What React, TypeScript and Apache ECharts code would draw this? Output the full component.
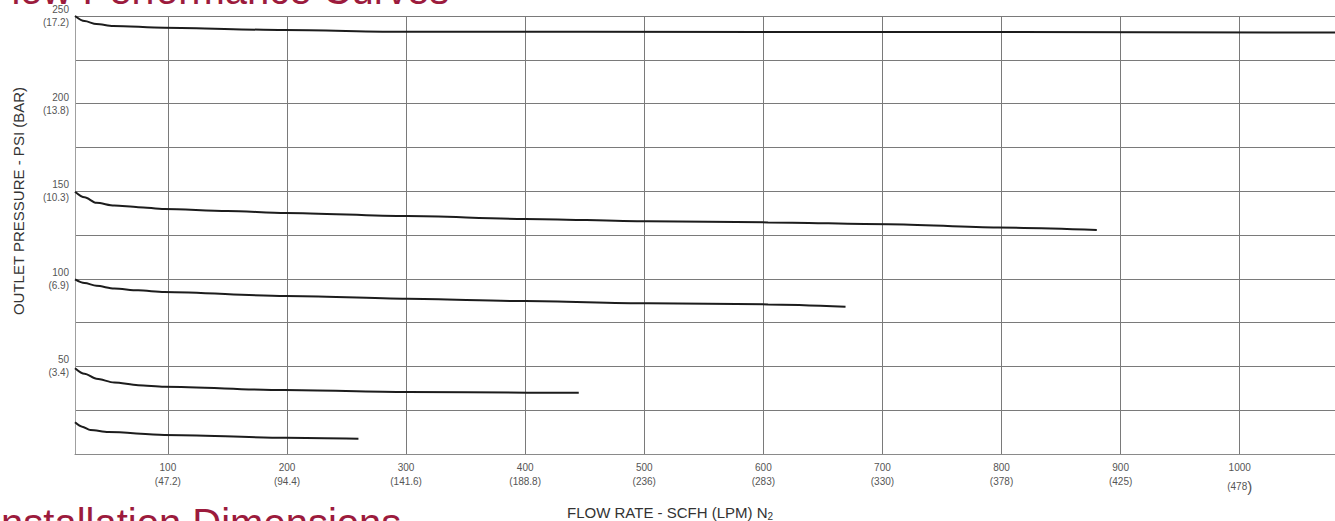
import React, { useEffect, useRef } from "react";
import * as echarts from "echarts";

// ---- data ----
const xTickScfh = [100, 200, 300, 400, 500, 600, 700, 800, 900, 1000];
const xTickLpm = ["47.2", "94.4", "141.6", "188.8", "236", "283", "330", "378", "425", "478"];
const yTickPsi = [50, 100, 150, 200, 250];
const yTickBar = ["3.4", "6.9", "10.3", "13.8", "17.2"];

const curve250: [number, number][] = [
  [22, 250], [30, 247.1], [40, 245.4], [54, 244.3], [97, 243.3], [198, 242.0],
  [301, 241.0], [600, 240.9], [1080, 240.6],
];
const curve150: [number, number][] = [
  [22, 149.7], [30, 146.5], [40, 143.4], [55, 141.8], [75, 140.9], [97, 139.8],
  [150, 138.7], [199, 137.6], [301, 135.8], [400, 134.2], [503, 132.8], [604, 132.2],
  [705, 131.2], [797, 129.3], [880, 127.9],
];
const curve100: [number, number][] = [
  [22, 99.7], [30, 97.6], [40, 96.0], [55, 94.4], [75, 93.4], [97, 92.5],
  [199, 90.2], [301, 88.6], [400, 87.3], [503, 86.0], [604, 85.4], [669, 84.1],
];
const curve50: [number, number][] = [
  [22, 49], [30, 45.8], [40, 43.0], [55, 40.8], [75, 39.3], [97, 38.4],
  [198, 36.5], [301, 35.4], [402, 35.0], [445, 35.0],
];
const curve20: [number, number][] = [
  [22, 18.1], [28, 15.6], [35, 13.7], [50, 12.5], [97, 10.9], [199, 9.3], [260, 8.7],
];

const curves = [curve250, curve150, curve100, curve50, curve20];

const FONT = "'Liberation Sans', Arial, sans-serif";
const RED = "#9c1b3d";

export default function App() {
  const ref = useRef<HTMLDivElement>(null);
  useEffect(() => {
    if (!ref.current) return;
    const chart = echarts.init(ref.current, undefined, { renderer: "svg" });
    chart.setOption({
      animation: false,
      backgroundColor: "#ffffff",
      grid: { left: 75, right: 0, top: 16, bottom: 67, containLabel: false },
      xAxis: {
        type: "value",
        min: 22,
        max: 1080,
        splitNumber: 10,
        minInterval: 100,
        maxInterval: 100,
        axisLine: { show: true, lineStyle: { color: "#8a8a8a", width: 1 } },
        axisTick: { show: false },
        splitLine: { show: true, lineStyle: { color: "#7a7a7a", width: 1 } },
        axisLabel: {
          margin: 6,
          fontFamily: FONT,
          fontSize: 10,
          color: "#555",
          lineHeight: 14,
          showMinLabel: false,
          showMaxLabel: false,
          formatter: (v: number) => {
            const i = xTickScfh.indexOf(Math.round(v));
            if (i < 0 || Math.abs(v - Math.round(v)) > 1e-6) return "";
            if (i === xTickScfh.length - 1) {
              return `{a|${xTickScfh[i]}}\n{b|(${xTickLpm[i]}}{c|)}`;
            }
            return `{a|${xTickScfh[i]}}\n{a|(${xTickLpm[i]})}`;
          },
          rich: {
            a: { fontFamily: FONT, fontSize: 10, color: "#555", lineHeight: 14 },
            b: { fontFamily: FONT, fontSize: 10, color: "#555", lineHeight: 24 },
            c: { fontFamily: FONT, fontSize: 15, color: "#555", lineHeight: 24 },
          },
        },
      },
      yAxis: {
        type: "value",
        min: 0,
        max: 250,
        interval: 25,
        axisLine: { show: true, lineStyle: { color: "#a0a0a0", width: 1 } },
        axisTick: { show: false },
        splitLine: { show: true, lineStyle: { color: "#7a7a7a", width: 1 } },
        axisLabel: {
          margin: 6,
          fontFamily: FONT,
          fontSize: 10,
          color: "#555",
          lineHeight: 13,
          align: "right",
          formatter: (v: number) => {
            const i = yTickPsi.indexOf(v);
            if (i < 0) return "";
            return `${yTickPsi[i]}\n(${yTickBar[i]})`;
          },
        },
      },
      series: curves.map((c) => ({
        type: "line",
        data: c,
        showSymbol: false,
        smooth: 0.3,
        smoothMonotone: "x",
        clip: false,
        lineStyle: { color: "#1c1c1c", width: 2 },
        emphasis: { disabled: true },
      })),
      graphic: [
        {
          type: "text",
          x: -13,
          y: -10,
          silent: true,
          style: {
            text: "Flow Performance Curves",
            fontFamily: FONT,
            fontSize: 40,
            fill: RED,
            align: "left",
            verticalAlign: "middle",
          },
        },
        {
          type: "text",
          x: -10,
          y: 523,
          silent: true,
          style: {
            text: "Installation Dimensions",
            fontFamily: FONT,
            fontSize: 40,
            fill: RED,
            align: "left",
            verticalAlign: "middle",
          },
        },
        {
          type: "text",
          x: 18,
          y: 201,
          rotation: Math.PI / 2,
          silent: true,
          style: {
            text: "OUTLET PRESSURE - PSI (BAR)",
            fontFamily: FONT,
            fontSize: 15,
            fill: "#333",
            align: "center",
            verticalAlign: "middle",
          },
        },
        {
          type: "text",
          x: 567,
          y: 512,
          silent: true,
          style: {
            text: "FLOW RATE - SCFH (LPM) N{s|2}",
            fontFamily: FONT,
            fontSize: 15,
            fill: "#333",
            align: "left",
            verticalAlign: "middle",
            rich: {
              s: { fontFamily: FONT, fontSize: 10, fill: "#333", padding: [8, 0, 0, 0] },
            },
          },
        },
      ],
    });
    return () => chart.dispose();
  }, []);
  return (
    <div
      ref={ref}
      style={{ position: "absolute", left: 0, top: 0, width: 1335, height: 521 }}
    />
  );
}
